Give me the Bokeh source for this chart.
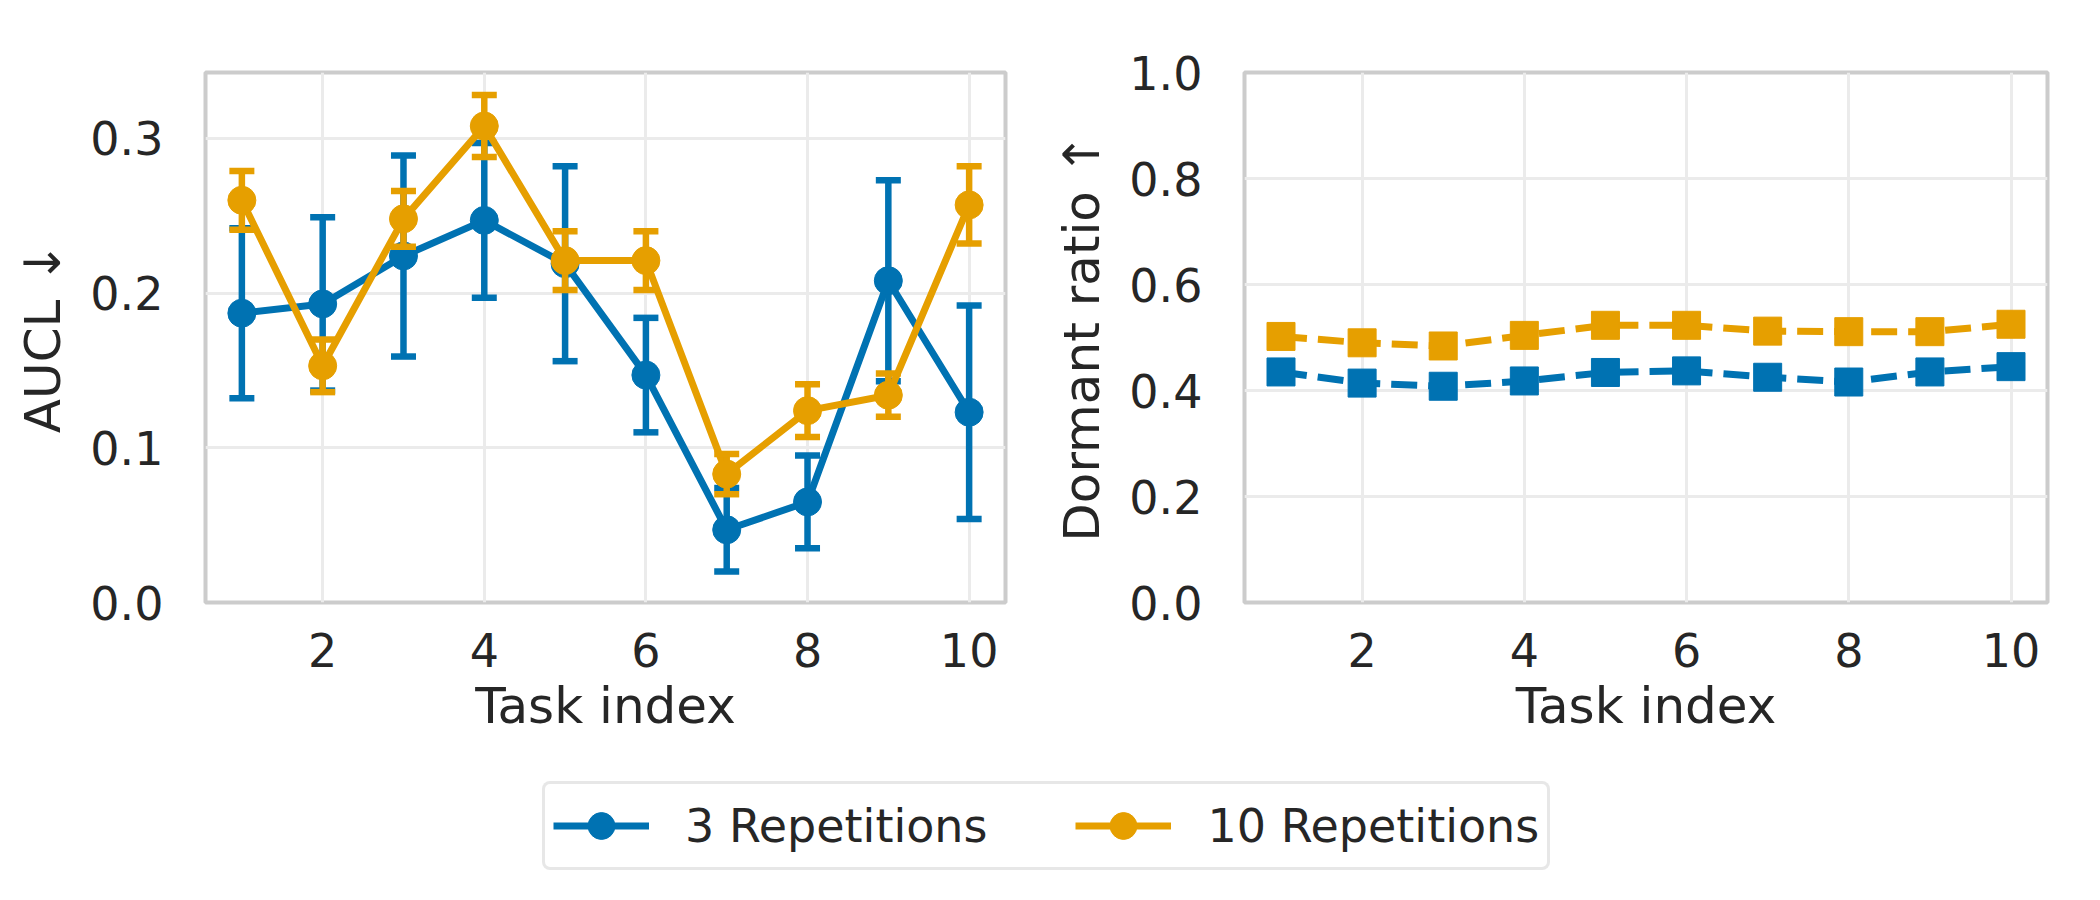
from bokeh.plotting import figure
from bokeh.models import (ColumnDataSource, FixedTicker, NumeralTickFormatter,
                          Range1d, Legend, LegendItem)
from bokeh.layouts import row, column
from bokeh.embed import file_html
from bokeh.resources import INLINE

# ---------------- data ----------------
tasks = [1, 2, 3, 4, 5, 6, 7, 8, 9, 10]
series_labels = ["3 Repetitions", "10 Repetitions"]
aucl_3_mean = [0.187, 0.193, 0.224, 0.247, 0.219, 0.147, 0.047, 0.065, 0.208, 0.123]
aucl_3_err = [0.055, 0.056, 0.065, 0.050, 0.063, 0.037, 0.027, 0.030, 0.065, 0.069]
aucl_10_mean = [0.260, 0.153, 0.248, 0.308, 0.221, 0.221, 0.083, 0.124, 0.134, 0.257]
aucl_10_err = [0.019, 0.017, 0.018, 0.020, 0.019, 0.019, 0.013, 0.017, 0.014, 0.025]
dormant_3 = [0.435, 0.414, 0.408, 0.418, 0.434, 0.437, 0.425, 0.416, 0.435, 0.445]
dormant_10 = [0.502, 0.490, 0.484, 0.504, 0.523, 0.523, 0.512, 0.511, 0.511, 0.525]
x_ticks = [2, 4, 6, 8, 10]
aucl_ticks = [0.0, 0.1, 0.2, 0.3]
dormant_ticks = [0.0, 0.2, 0.4, 0.6, 0.8, 1.0]

BLUE = "#0072B2"
ORANGE = "#E69F00"
TEXT = "#262626"
FONT = "DejaVu Sans"
LW = 7


def style(p, yticks, ylabel):
    p.outline_line_color = "#cccccc"
    p.outline_line_width = 4
    p.background_fill_color = "white"
    p.border_fill_color = "white"
    for ax in (p.xaxis[0], p.yaxis[0]):
        ax.axis_line_color = None
        ax.major_tick_line_color = None
        ax.minor_tick_line_color = None
        ax.major_tick_out = 0
        ax.major_tick_in = 0
        ax.minor_tick_out = 0
        ax.major_label_text_font = FONT
        ax.major_label_text_font_size = "46px"
        ax.major_label_text_color = TEXT
        ax.axis_label_text_font = FONT
        ax.axis_label_text_font_size = "50px"
        ax.axis_label_text_color = TEXT
        ax.axis_label_text_font_style = "normal"
    p.xaxis[0].ticker = FixedTicker(ticks=x_ticks)
    p.yaxis[0].ticker = FixedTicker(ticks=yticks)
    p.yaxis[0].formatter = NumeralTickFormatter(format="0.0")
    p.xaxis[0].axis_label = "Task index"
    p.yaxis[0].axis_label = ylabel
    p.xaxis[0].major_label_standoff = 30
    p.xaxis[0].axis_label_standoff = 7
    p.yaxis[0].major_label_standoff = 42
    p.yaxis[0].axis_label_standoff = 15
    p.grid.grid_line_color = "#ebebeb"
    p.grid.grid_line_width = 3
    p.xgrid[0].ticker = FixedTicker(ticks=x_ticks)
    p.ygrid[0].ticker = FixedTicker(ticks=yticks)


# ---------------- left: AUCL ----------------
p1 = figure(width=1040, height=760, x_range=Range1d(0.55, 10.45),
            y_range=Range1d(0.0, 0.3426), output_backend="svg",
            toolbar_location=None, min_border_left=205, min_border_right=35,
            min_border_top=72, min_border_bottom=158)
style(p1, aucl_ticks, "AUCL ↓")

for mean, err, col in ((aucl_3_mean, aucl_3_err, BLUE), (aucl_10_mean, aucl_10_err, ORANGE)):
    src = ColumnDataSource(dict(
        x=tasks, y=mean,
        lo=[m - e for m, e in zip(mean, err)],
        hi=[m + e for m, e in zip(mean, err)]))
    p1.line("x", "y", source=src, line_color=col, line_width=LW)
    p1.segment(x0="x", y0="lo", x1="x", y1="hi", source=src,
               line_color=col, line_width=6.5)
    p1.scatter("x", "hi", source=src, marker="dash", size=25,
               line_color=col, line_width=6.5)
    p1.scatter("x", "lo", source=src, marker="dash", size=25,
               line_color=col, line_width=6.5)
    p1.scatter("x", "y", source=src, marker="circle", size=28,
               fill_color=col, line_color=col, line_width=1)

# ---------------- right: Dormant ratio ----------------
p2 = figure(width=1060, height=760, x_range=Range1d(0.55, 10.45),
            y_range=Range1d(0.0, 1.0), output_backend="svg",
            toolbar_location=None, min_border_left=204, min_border_right=53,
            min_border_top=72, min_border_bottom=158)
style(p2, dormant_ticks, "Dormant ratio ↑")

for vals, col in ((dormant_3, BLUE), (dormant_10, ORANGE)):
    src = ColumnDataSource(dict(x=tasks, y=vals))
    p2.line("x", "y", source=src, line_color=col, line_width=LW,
            line_dash="26 11")
    p2.scatter("x", "y", source=src, marker="square", size=28,
               fill_color=col, line_color=col, line_width=1)

# ---------------- legend strip ----------------
p3 = figure(width=2100, height=140, x_range=Range1d(0, 1), y_range=Range1d(0, 1),
            output_backend="svg", toolbar_location=None,
            x_axis_type=None, y_axis_type=None, min_border=0)
p3.outline_line_color = None
p3.grid.visible = False
items = []
for lab, col in zip(series_labels, (BLUE, ORANGE)):
    # legend-only renderers: their single point lies outside the visible range
    lr = p3.line([5, 6], [5, 5], line_color=col, line_width=LW)
    sr = p3.scatter([5], [5], marker="circle", fill_color=col, line_color=col)
    items.append(LegendItem(label=lab, renderers=[lr, sr]))
legend = Legend(items=items, orientation="horizontal", location=(542, 30),
                label_text_font=FONT, label_text_font_size="46px",
                label_text_color=TEXT, label_standoff=36, spacing=88,
                glyph_width=96, glyph_height=67, padding=8, margin=0,
                border_line_color="#d0d0d0", border_line_width=3,
                background_fill_color="white", background_fill_alpha=1.0)
if "border_radius" in Legend.properties():
    legend.border_radius = 8
p3.add_layout(legend, "center")

layout = column(row(p1, p2), p3)
open("out.html", "w").write(file_html(layout, INLINE))
